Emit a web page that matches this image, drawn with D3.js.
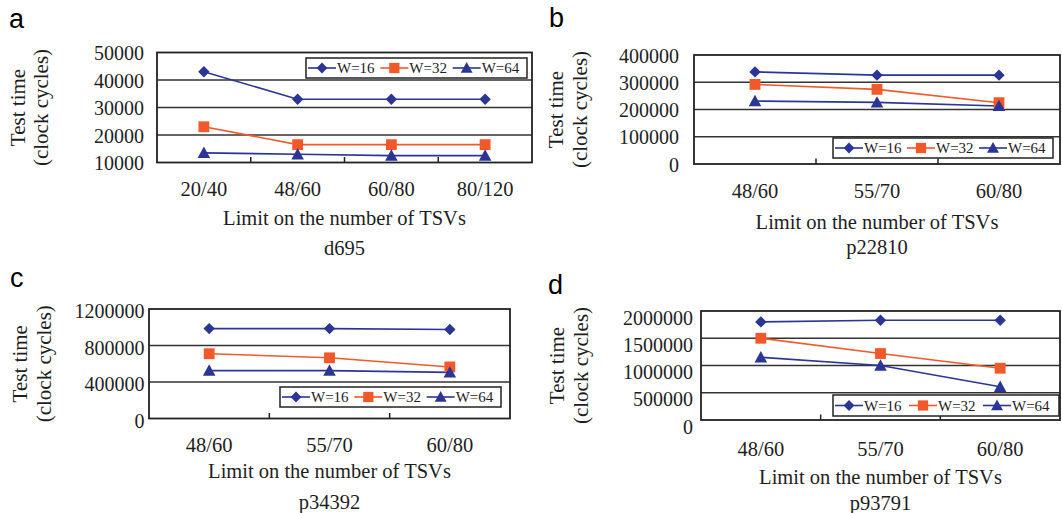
<!DOCTYPE html>
<html>
<head>
<meta charset="utf-8">
<script src="https://cdn.jsdelivr.net/npm/d3@7"></script>
<style>
  html, body { margin: 0; padding: 0; background: #fff; }
  svg { display: block; }
</style>
</head>
<body>
<svg id="chart" width="1062" height="513"></svg>
<script>
// ---------------- DATA ----------------
const panelLetters = ["a", "b", "c", "d"];
const circuitNames = ["d695", "p22810", "p34392", "p93791"];
const seriesNames = ["W=16", "W=32", "W=64"];
const xTitle = "Limit on the number of TSVs";
const yTitle1 = "Test time";
const yTitle2 = "(clock cycles)";

const categoriesA = ["20/40", "48/60", "60/80", "80/120"];
const categoriesB = ["48/60", "55/70", "60/80"];
const categoriesC = ["48/60", "55/70", "60/80"];
const categoriesD = ["48/60", "55/70", "60/80"];

const yTicksA = [10000, 20000, 30000, 40000, 50000];
const yTicksB = [0, 100000, 200000, 300000, 400000];
const yTicksC = [0, 400000, 800000, 1200000];
const yTicksD = [0, 500000, 1000000, 1500000, 2000000];

const aW16 = [43000, 33000, 33000, 33000];
const aW32 = [23000, 16500, 16500, 16500];
const aW64 = [13500, 13000, 12500, 12500];

const bW16 = [338000, 326000, 326000];
const bW32 = [292000, 274000, 225000];
const bW64 = [231000, 226000, 213000];

const cW16 = [985000, 985000, 975000];
const cW32 = [710000, 665000, 565000];
const cW64 = [525000, 525000, 505000];

const dW16 = [1800000, 1830000, 1830000];
const dW32 = [1500000, 1220000, 950000];
const dW64 = [1150000, 1000000, 610000];

// ---------------- STYLE / LAYOUT ----------------
const BLUE = "#2B3595";
const ORANGE = "#F1592A";
const seriesColors = [BLUE, ORANGE, BLUE];
const seriesShapes = ["diamond", "square", "triangle"];
const SERIF = "'Liberation Serif', 'Times New Roman', serif";
const SANS = "'Liberation Sans', Arial, sans-serif";
const TEXT = "#1e1e1e";

const panels = [
  { cats: categoriesA, ticks: yTicksA, series: [aW16, aW32, aW64],
    L: 157, R: 532, T: 52.5, B: 162.5, tickX: 144, tickDy: 0,
    t1x: 25, t2x: 48, letter: [9, 28],
    catY: 196, axY: 225, nameY: 255,
    legend: { x: 306, y: 58, w: 221, h: 20 } },
  { cats: categoriesB, ticks: yTicksB, series: [bW16, bW32, bW64],
    L: 694, R: 1060, T: 55, B: 164, tickX: 679, tickDy: 0,
    t1x: 563, t2x: 587, letter: [549, 27],
    catY: 198, axY: 229, nameY: 254,
    legend: { x: 833, y: 138, w: 220, h: 20 } },
  { cats: categoriesC, ticks: yTicksC, series: [cW16, cW32, cW64],
    L: 149, R: 510, T: 309, B: 418.5, tickX: 144.5, tickDy: 1.5,
    t1x: 27, t2x: 51, letter: [10, 287],
    catY: 452, axY: 478, nameY: 509,
    legend: { x: 280, y: 387, w: 221, h: 20 } },
  { cats: categoriesD, ticks: yTicksD, series: [dW16, dW32, dW64],
    L: 701, R: 1060, T: 311, B: 420, tickX: 693, tickDy: 6,
    t1x: 564, t2x: 588, letter: [548, 294],
    catY: 456, axY: 484, nameY: 510,
    legend: { x: 833, y: 395, w: 226, h: 21 } }
];

function markerPath(shape, r) {
  if (shape === "diamond") {
    return `M0,${-r}L${r},0L0,${r}L${-r},0Z`;
  } else if (shape === "square") {
    const s = r * 0.95;
    return `M${-s},${-s}H${s}V${s}H${-s}Z`;
  } else {
    const h = r * 2;
    return `M0,${-h * 0.55}L${r * 1.1},${h * 0.45}L${-r * 1.1},${h * 0.45}Z`;
  }
}

const svg = d3.select("#chart");

panels.forEach((p, pi) => {
  const g = svg.append("g");
  const x = d3.scaleBand().domain(p.cats).range([p.L, p.R]);
  const y = d3.scaleLinear().domain(d3.extent(p.ticks)).range([p.B, p.T]);

  // gridlines
  g.append("g").selectAll("line").data(p.ticks.slice(1, -1)).join("line")
    .attr("x1", p.L).attr("x2", p.R)
    .attr("y1", d => y(d)).attr("y2", d => y(d))
    .attr("stroke", "#333").attr("stroke-width", 1.3);

  // y axis labels (via d3 axis, no tick lines)
  const yAxis = d3.axisLeft(y).tickValues(p.ticks).tickSize(0).tickPadding(0)
    .tickFormat(d3.format("d"));
  const ya = g.append("g").attr("transform", `translate(${p.tickX},0)`).call(yAxis);
  ya.select(".domain").remove();
  ya.selectAll("text").attr("font-family", SERIF).attr("font-size", 20)
    .attr("fill", TEXT).attr("dy", null)
    .attr("y", p.tickDy).attr("dominant-baseline", "central");

  // x axis: inward ticks at band boundaries
  const bounds = p.cats.slice(1).map(c => x(c));
  g.append("g").selectAll("line").data(bounds).join("line")
    .attr("x1", d => d).attr("x2", d => d)
    .attr("y1", p.B).attr("y2", p.B - 5.5)
    .attr("stroke", "#222").attr("stroke-width", 1.5);

  // category labels
  g.append("g").selectAll("text").data(p.cats).join("text")
    .attr("x", d => x(d) + x.bandwidth() / 2).attr("y", p.catY)
    .attr("text-anchor", "middle").attr("font-family", SERIF)
    .attr("font-size", 20.5).attr("fill", TEXT).text(d => d);

  // frame
  g.append("rect").attr("x", p.L).attr("y", p.T)
    .attr("width", p.R - p.L).attr("height", p.B - p.T)
    .attr("fill", "none").attr("stroke", "#222").attr("stroke-width", 1.8);

  // series
  const cx = c => x(c) + x.bandwidth() / 2;
  p.series.forEach((vals, si) => {
    const pts = vals.map((v, i) => [cx(p.cats[i]), y(v)]);
    g.append("path").attr("d", d3.line()(pts))
      .attr("fill", "none").attr("stroke", seriesColors[si])
      .attr("stroke-width", 1.6);
  });
  p.series.forEach((vals, si) => {
    g.append("g").selectAll("path").data(vals).join("path")
      .attr("transform", (v, i) => `translate(${cx(p.cats[i])},${y(v)})`)
      .attr("d", markerPath(seriesShapes[si], 5.7))
      .attr("fill", seriesColors[si]);
  });

  // legend
  const lg = p.legend;
  g.append("rect").attr("x", lg.x).attr("y", lg.y).attr("width", lg.w).attr("height", lg.h)
    .attr("fill", "#fff").attr("stroke", "#222").attr("stroke-width", 1.5);
  const step = (lg.w - 4) / 3;
  seriesNames.forEach((name, si) => {
    const x0 = lg.x + 2 + si * step;
    const ym = lg.y + lg.h / 2;
    g.append("line").attr("x1", x0).attr("x2", x0 + 28).attr("y1", ym).attr("y2", ym)
      .attr("stroke", seriesColors[si]).attr("stroke-width", 1.6);
    g.append("path").attr("transform", `translate(${x0 + 14},${ym})`)
      .attr("d", markerPath(seriesShapes[si], 5.4)).attr("fill", seriesColors[si]);
    g.append("text").attr("x", x0 + 29).attr("y", ym + 5.2)
      .attr("font-family", SERIF).attr("font-size", 15).attr("fill", TEXT).text(name);
  });

  // y title (two lines, rotated)
  const cy = (p.T + p.B) / 2;
  [[yTitle1, p.t1x], [yTitle2, p.t2x]].forEach(([t, tx]) => {
    g.append("text").attr("transform", `translate(${tx},${cy}) rotate(-90)`)
      .attr("text-anchor", "middle").attr("font-family", SERIF)
      .attr("font-size", 21).attr("fill", TEXT).text(t);
  });

  // x title and circuit name
  const mx = (p.L + p.R) / 2;
  g.append("text").attr("x", mx).attr("y", p.axY).attr("text-anchor", "middle")
    .attr("font-family", SERIF).attr("font-size", 20.5).attr("fill", TEXT).text(xTitle);
  g.append("text").attr("x", mx).attr("y", p.nameY).attr("text-anchor", "middle")
    .attr("font-family", SERIF).attr("font-size", 20.5).attr("fill", TEXT).text(circuitNames[pi]);

  // panel letter
  g.append("text").attr("x", p.letter[0]).attr("y", p.letter[1])
    .attr("font-family", SANS).attr("font-size", 27).attr("fill", "#000")
    .text(panelLetters[pi]);
});
</script>
</body>
</html>
